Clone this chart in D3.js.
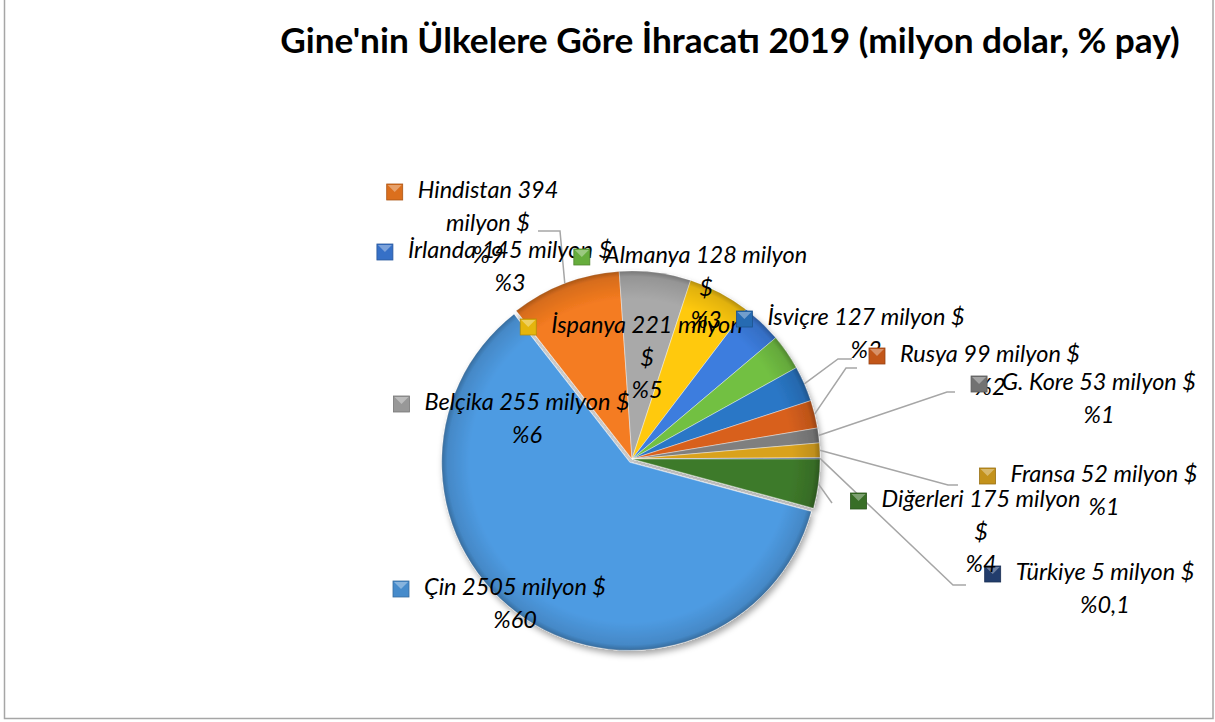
<!DOCTYPE html>
<html>
<head>
<meta charset="utf-8">
<script src="https://cdn.jsdelivr.net/npm/d3@7"></script>
<style>
  body { margin: 0; background: #fff; }
  svg { display: block; }
  text { font-family: Lato, 'Open Sans', sans-serif; fill: #000; }
</style>
</head>
<body>
<svg id="chart" width="1215" height="722"></svg>
<script>
'use strict'

// slices in clockwise order, as drawn in the original
const countries = ['Hindistan', 'Belçika', 'İspanya', 'İrlanda', 'Almanya', 'İsviçre',
  'Rusya', 'G. Kore', 'Fransa', 'Türkiye', 'Diğerleri', 'Çin']
const values = [394, 255, 221, 145, 128, 127, 99, 53, 52, 5, 175, 2505]
const shares = ['%9', '%6', '%5', '%3', '%3', '%3', '%2', '%1', '%1', '%0,1', '%4', '%60']
const colors = ['#F47B20', '#A9A9A9', '#FFC90E', '#3C7DDE', '#72C043', '#2A77C6',
  '#D8601C', '#7F7F7F', '#D9A21E', '#264478', '#3E7A2A', '#4E9BE2']

const title = "Gine'nin Ülkelere Göre İhracatı 2019 (milyon dolar, % pay)"

// label placement (text centre, first baseline, where to wrap, leader line)
const labelLayout = {
  'Hindistan': { x: 488, y: 198, brk: 2, line: [[560, 231], [538, 231]] },
  'Belçika': { x: 527, y: 410 },
  'İspanya': { x: 647, y: 333, brk: 3 },
  'İrlanda': { x: 510, y: 258 },
  'Almanya': { x: 706, y: 263, brk: 3 },
  'İsviçre': { x: 866, y: 325, line: [[838, 359], [852, 359]] },
  'Rusya': { x: 990, y: 362, line: [[846, 368], [857, 368]] },
  'G. Kore': { x: 1099, y: 390, line: [[947, 392], [955, 392]] },
  'Fransa': { x: 1104, y: 482, line: [[948, 485], [958, 485]] },
  'Türkiye': { x: 1105, y: 580, line: [[953, 585], [966, 585]] },
  'Diğerleri': { x: 981, y: 507, brk: 3, line: [[832, 503]] },
  'Çin': { x: 515, y: 595 }
}

const cx = 632
const cy = 459
const R = 188
const lineGap = 32.5
const rad = Math.PI / 180

const svg = d3.select('#chart')
const defs = svg.append('defs')

const shadow = defs.append('filter').attr('id', 'shadow')
  .attr('x', '-20%').attr('y', '-20%').attr('width', '140%').attr('height', '140%')
shadow.append('feDropShadow').attr('dx', 2).attr('dy', 4)
  .attr('stdDeviation', 3).attr('flood-color', '#000').attr('flood-opacity', 0.35)

// rim darkening to hint at the bevel
const rim = defs.append('radialGradient').attr('id', 'rim')
  .attr('gradientUnits', 'userSpaceOnUse')
  .attr('cx', 0).attr('cy', 0).attr('r', R)
rim.append('stop').attr('offset', '0.85').attr('stop-color', '#000').attr('stop-opacity', 0)
rim.append('stop').attr('offset', '0.97').attr('stop-color', '#000').attr('stop-opacity', 0.12)
rim.append('stop').attr('offset', '1').attr('stop-color', '#000').attr('stop-opacity', 0.3)

// chart frame
svg.append('rect')
  .attr('x', 4.5).attr('y', -5).attr('width', 1208.5).attr('height', 723.5)
  .attr('fill', 'none').attr('stroke', '#A6A6A6').attr('stroke-width', 1.5)

// title, fitted to the width it takes in the original
const t = svg.append('text')
  .attr('x', 730).attr('y', 53)
  .attr('text-anchor', 'middle')
  .style('font-weight', 'bold')
  .style('font-size', '32px')
  .text(title)
const tl = t.node().getComputedTextLength()
t.style('font-size', (32 * 900 / tl) + 'px')

const start = -38 * rad
const pie = d3.pie().sort(null).value(d => d.value)
  .startAngle(start).endAngle(start + 2 * Math.PI)

const data = countries.map((c, i) => ({ name: c, value: values[i], share: shares[i], color: colors[i] }))
const arcs = pie(data)

const arc = d3.arc().innerRadius(0).outerRadius(R)

// Çin is pulled out a little from the centre
const explode = d => {
  if (d.data.name !== 'Çin') return [0, 0]
  const a = (d.startAngle + d.endAngle) / 2
  return [Math.sin(a) * 4, -Math.cos(a) * 4]
}

const pieG = svg.append('g').attr('filter', 'url(#shadow)')

const slices = pieG.selectAll('g.slice')
  .data(arcs)
  .join('g')
  .attr('class', 'slice')
  .attr('transform', d => {
    const o = explode(d)
    return `translate(${cx + o[0]},${cy + o[1]})`
  })

slices.append('path')
  .attr('d', arc)
  .attr('fill', d => d.data.color)
  .attr('stroke', 'rgba(255,255,255,0.4)')
  .attr('stroke-width', 1)

slices.append('path')
  .attr('d', arc)
  .attr('fill', 'url(#rim)')

// leader lines
const edgePoint = d => {
  const a = (d.startAngle + d.endAngle) / 2
  const o = explode(d)
  return [cx + o[0] + Math.sin(a) * R, cy + o[1] - Math.cos(a) * R]
}

svg.append('g').selectAll('path')
  .data(arcs.filter(d => labelLayout[d.data.name].line))
  .join('path')
  .attr('d', d => d3.line()([edgePoint(d)].concat(labelLayout[d.data.name].line)))
  .attr('fill', 'none')
  .attr('stroke', '#A6A6A6')
  .attr('stroke-width', 1.5)

// data labels
const labels = svg.append('g').selectAll('g.label')
  .data(arcs)
  .join('g')
  .attr('class', 'label')

labels.each(function (d) {
  const g = d3.select(this)
  const lay = labelLayout[d.data.name]
  const words = `${d.data.name} ${d.data.value} milyon $`.split(' ')
  const brk = lay.brk || words.length
  const lines = [words.slice(0, brk).join(' ')]
  if (brk < words.length) lines.push(words.slice(brk).join(' '))
  lines.push(d.data.share)

  const txt = g.append('text')
    .attr('text-anchor', 'middle')
    .style('font-style', 'italic')
    .style('font-size', '23.5px')
  lines.forEach((s, i) => {
    txt.append('tspan').attr('x', lay.x).attr('y', lay.y + i * lineGap).text(s)
  })

  const w = txt.select('tspan').node().getComputedTextLength()
  const kx = lay.x - w / 2 - 15 - 16
  const ky = lay.y - 14
  g.append('rect')
    .attr('x', kx).attr('y', ky).attr('width', 16).attr('height', 16)
    .attr('fill', d3.color(d.data.color).darker(0.3))
    .attr('stroke', d3.color(d.data.color).darker(1))
    .attr('stroke-width', 0.8)
  g.append('path')
    .attr('d', d3.line()([[kx + 1, ky + 1], [kx + 15, ky + 1], [kx + 8, ky + 8]]))
    .attr('fill', 'rgba(255,255,255,0.35)')
  txt.raise()
})
</script>
</body>
</html>
